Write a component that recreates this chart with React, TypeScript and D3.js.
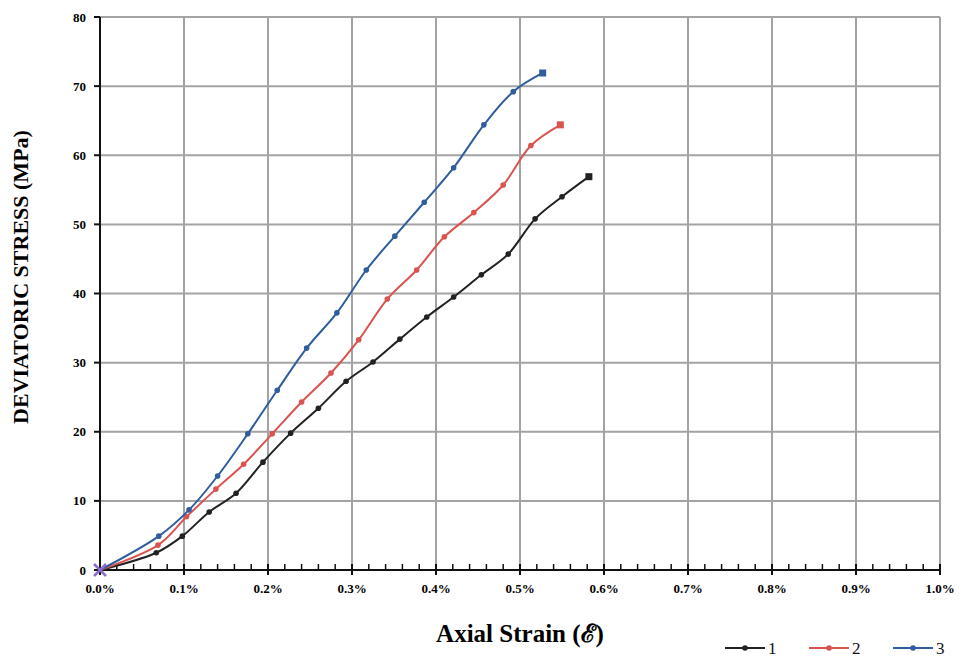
import React, { useEffect, useRef } from "react";
import * as d3 from "d3";

// strain in %, stress in MPa
const strain1 = [0, 0.067, 0.098, 0.13, 0.162, 0.194, 0.227, 0.26, 0.293, 0.325, 0.357, 0.389, 0.421, 0.454, 0.486, 0.518, 0.55, 0.582];
const stress1 = [0, 2.5, 4.9, 8.4, 11.1, 15.6, 19.8, 23.4, 27.3, 30.1, 33.4, 36.6, 39.5, 42.7, 45.7, 50.8, 54.0, 56.9];

const strain2 = [0, 0.069, 0.103, 0.138, 0.171, 0.205, 0.24, 0.275, 0.308, 0.342, 0.377, 0.41, 0.445, 0.48, 0.513, 0.548];
const stress2 = [0, 3.6, 7.7, 11.7, 15.3, 19.7, 24.3, 28.5, 33.3, 39.2, 43.4, 48.2, 51.7, 55.7, 61.4, 64.4];

const strain3 = [0, 0.07, 0.106, 0.14, 0.176, 0.211, 0.246, 0.282, 0.317, 0.351, 0.386, 0.421, 0.457, 0.492, 0.527];
const stress3 = [0, 4.9, 8.7, 13.6, 19.7, 26.0, 32.1, 37.2, 43.4, 48.3, 53.2, 58.2, 64.4, 69.2, 71.9];

const seriesNames = ["1", "2", "3"];
const seriesColors = ["#222222", "#d9534f", "#2f5d9e"];

const xTicks = [0, 0.1, 0.2, 0.3, 0.4, 0.5, 0.6, 0.7, 0.8, 0.9, 1.0];
const yTicks = [0, 10, 20, 30, 40, 50, 60, 70, 80];

const W = 959;
const H = 657;
const font = "'Liberation Serif', 'Times New Roman', serif";

export default function App() {
  const ref = useRef<SVGSVGElement>(null);

  useEffect(() => {
    const svg = d3.select(ref.current);
    svg.selectAll("*").remove();

    const x = d3.scaleLinear().domain([0, 1.0]).range([100, 940]);
    const y = d3.scaleLinear().domain([0, 80]).range([570, 17]);

    // grid
    const grid = svg.append("g").attr("stroke", "#a3a3a3").attr("stroke-width", 2);
    xTicks.slice(1).forEach((t) => {
      grid.append("line").attr("x1", x(t)).attr("x2", x(t)).attr("y1", y(80)).attr("y2", y(0));
    });
    yTicks.slice(1).forEach((t) => {
      grid.append("line").attr("x1", x(0)).attr("x2", x(1)).attr("y1", y(t)).attr("y2", y(t));
    });

    // axes
    const ax = svg.append("g").attr("stroke", "#111").attr("stroke-width", 2);
    ax.append("line").attr("x1", x(0)).attr("x2", x(0)).attr("y1", y(80)).attr("y2", y(0));
    ax.append("line").attr("x1", x(0)).attr("x2", x(1)).attr("y1", y(0)).attr("y2", y(0));
    yTicks.forEach((t) => {
      ax.append("line").attr("x1", x(0) - 6).attr("x2", x(0)).attr("y1", y(t)).attr("y2", y(t));
    });
    d3.range(0, 51).forEach((i) => {
      const v = i * 0.02;
      const major = i % 5 === 0;
      ax.append("line")
        .attr("x1", x(v)).attr("x2", x(v))
        .attr("y1", y(0) - 6).attr("y2", major ? y(0) + 5 : y(0))
        .attr("stroke-width", major ? 2 : 1.5);
    });

    // tick labels
    svg.append("g").selectAll("text").data(yTicks).enter().append("text")
      .attr("x", 86).attr("y", (d) => y(d) + 4.5)
      .attr("text-anchor", "end")
      .attr("font-family", font).attr("font-weight", "bold").attr("font-size", 13)
      .text((d) => d);
    svg.append("g").selectAll("text").data(xTicks).enter().append("text")
      .attr("x", (d) => x(d)).attr("y", 593)
      .attr("text-anchor", "middle")
      .attr("font-family", font).attr("font-weight", "bold").attr("font-size", 13)
      .text((d) => d.toFixed(1) + "%");

    // titles
    svg.append("text")
      .attr("transform", "translate(28,277) rotate(-90)")
      .attr("text-anchor", "middle")
      .attr("font-family", font).attr("font-weight", "bold").attr("font-size", 22)
      .text("DEVIATORIC STRESS (MPa)");
    svg.append("text")
      .attr("x", 520).attr("y", 642)
      .attr("text-anchor", "middle")
      .attr("font-family", font).attr("font-weight", "bold").attr("font-size", 25)
      .text("Axial Strain (\u2130)");

    const line = d3.line<[number, number]>()
      .x((d) => x(d[0])).y((d) => y(d[1]))
      .curve(d3.curveCatmullRom.alpha(0.5));

    const all = [
      d3.zip(strain1, stress1),
      d3.zip(strain2, stress2),
      d3.zip(strain3, stress3),
    ] as [number, number][][];

    all.forEach((pts, si) => {
      const c = seriesColors[si];
      svg.append("path").attr("d", line(pts)).attr("fill", "none")
        .attr("stroke", c).attr("stroke-width", 2);
      pts.forEach((p, i) => {
        if (i === 0) return;
        if (i === pts.length - 1) {
          svg.append("rect").attr("x", x(p[0]) - 3.5).attr("y", y(p[1]) - 3.5)
            .attr("width", 7).attr("height", 7).attr("fill", c);
        } else {
          svg.append("circle").attr("cx", x(p[0])).attr("cy", y(p[1])).attr("r", 2.8).attr("fill", c);
        }
      });
    });

    // origin marker
    const o = svg.append("g").attr("stroke", "#8a6fc9").attr("stroke-width", 2.5);
    o.append("line").attr("x1", x(0) - 6).attr("x2", x(0) + 6).attr("y1", y(0) - 6).attr("y2", y(0) + 6);
    o.append("line").attr("x1", x(0) - 6).attr("x2", x(0) + 6).attr("y1", y(0) + 6).attr("y2", y(0) - 6);

    // legend
    const lx = [725, 809, 893];
    seriesNames.forEach((n, i) => {
      const g = svg.append("g");
      g.append("line").attr("x1", lx[i]).attr("x2", lx[i] + 40).attr("y1", 648).attr("y2", 648)
        .attr("stroke", seriesColors[i]).attr("stroke-width", 2);
      g.append("circle").attr("cx", lx[i] + 20).attr("cy", 648).attr("r", 2.8).attr("fill", seriesColors[i]);
      g.append("text").attr("x", lx[i] + 43).attr("y", 654)
        .attr("font-family", font).attr("font-size", 17).attr("fill", "#111").text(n);
    });
  }, []);

  return (
    <svg ref={ref} width={W} height={H}
      style={{ position: "absolute", left: 0, top: 0, background: "#fff" }} />
  );
}
